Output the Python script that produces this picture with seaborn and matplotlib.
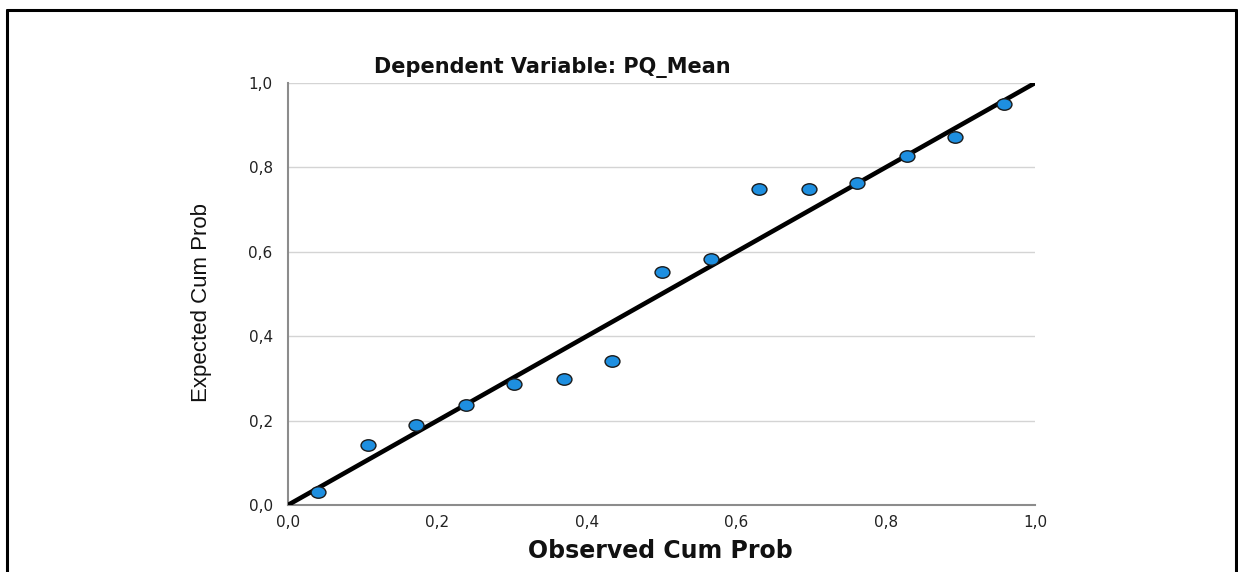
import matplotlib
matplotlib.use("Agg")
import matplotlib.pyplot as plt
from matplotlib.lines import Line2D
from matplotlib.path import Path
from matplotlib.transforms import Affine2D
import seaborn as sns
import pandas as pd

# Normal P-P plot of regression standardized residuals
observed_cum_prob = [0.040, 0.107, 0.172, 0.238, 0.303, 0.369, 0.434, 0.500,
                     0.566, 0.631, 0.697, 0.762, 0.828, 0.893, 0.959]
expected_cum_prob = [0.030, 0.143, 0.190, 0.236, 0.286, 0.298, 0.341, 0.552,
                     0.583, 0.749, 0.749, 0.762, 0.827, 0.872, 0.950]
diag_x = [0.0, 1.0]
diag_y = [0.0, 1.0]
tick_values = [0.0, 0.2, 0.4, 0.6, 0.8, 1.0]
tick_labels = ["0,0", "0,2", "0,4", "0,6", "0,8", "1,0"]

title_text = "Dependent Variable: PQ_Mean"
xlabel_text = "Observed Cum Prob"
ylabel_text = "Expected Cum Prob"

sns.set_theme(style="white")
plt.rcParams["font.family"] = ["DejaVu Sans"]

points = pd.DataFrame({"observed": observed_cum_prob, "expected": expected_cum_prob})
diag = pd.DataFrame({"x": diag_x, "y": diag_y})

# slightly flattened round marker
oval = Path.unit_circle().transformed(Affine2D().scale(1.3, 1.0))

W, H = 1238, 572
fig = plt.figure(figsize=(W / 100, H / 100), dpi=100)
ax = fig.add_axes([288 / W, 67 / H, 747 / W, 422 / H])

ax.set_axisbelow(True)
ax.yaxis.grid(True, color="#d4d4d4", linewidth=1.0)
ax.xaxis.grid(False)

sns.lineplot(data=diag, x="x", y="y", ax=ax, color="black", linewidth=3.3,
             zorder=3, legend=False)
sns.scatterplot(data=points, x="observed", y="expected", ax=ax,
                marker=oval, color="#1e8fe0", edgecolor="#1a1a1a", linewidth=1.0,
                s=115, zorder=4, legend=False, clip_on=False)

ax.set_xlim(0, 1)
ax.set_ylim(0, 1)
ax.set_xticks(tick_values)
ax.set_xticklabels(tick_labels)
ax.set_yticks(tick_values)
ax.set_yticklabels(tick_labels)
ax.tick_params(axis="both", length=0, labelsize=11, colors="#222222")
ax.tick_params(axis="x", pad=7)
ax.tick_params(axis="y", pad=11)
ax.set_xlabel("")
ax.set_ylabel("")

for side in ("top", "right"):
    ax.spines[side].set_visible(False)
for side in ("left", "bottom"):
    ax.spines[side].set_color("#8c8c8c")
    ax.spines[side].set_linewidth(1.5)

fig.text(552 / W, 1 - 68 / H, title_text, ha="center", va="center",
         fontsize=15, fontweight="bold", color="#111111")
fig.text(660 / W, 1 - 551 / H, xlabel_text, ha="center", va="center",
         fontsize=17, fontweight="bold", color="#111111")
fig.text(201 / W, 1 - 302 / H, ylabel_text, ha="center", va="center",
         rotation=90, fontsize=16, family=["Liberation Sans", "DejaVu Sans"],
         color="#111111")

# outer frame (left, top, right edges)
frame_kw = dict(color="black", linewidth=2.2, transform=fig.transFigure)
fig.add_artist(Line2D([7 / W, 7 / W], [0, 1 - 10 / H], **frame_kw))
fig.add_artist(Line2D([7 / W, 1236 / W], [1 - 10 / H, 1 - 10 / H], **frame_kw))
fig.add_artist(Line2D([1236 / W, 1236 / W], [0, 1 - 10 / H], **frame_kw))

fig.savefig("out.png", dpi=100, facecolor="white")
